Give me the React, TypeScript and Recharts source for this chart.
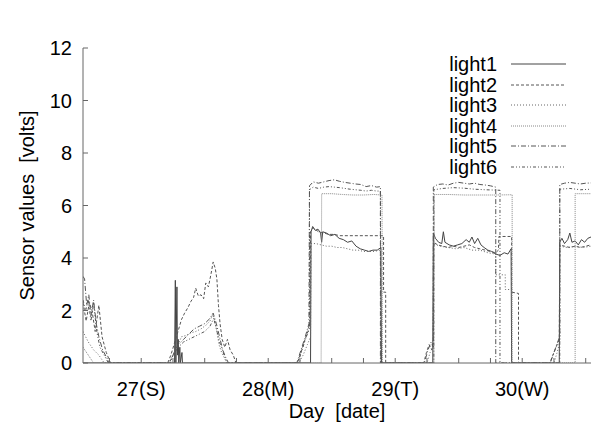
import React from 'react';
import { LineChart, Line, XAxis, YAxis, Legend, Label } from 'recharts';

const FONT = '"Liberation Sans", Arial, Helvetica, sans-serif';

// hours counted from 27th 00:00
const xTicks = [-6, 0, 6, 12, 18, 24, 30, 36, 42, 48, 54, 60, 66, 72, 78, 84];
const dayLabels: Record<number, string> = { 0: '27(S)', 24: '28(M)', 48: '29(T)', 72: '30(W)' };
const yTicks = [0, 2, 4, 6, 8, 10, 12];

const light1: [number, number][] = [
  [-11, 0], [6.3, 0], [6.45, 3.15], [6.55, 0], [6.75, 2.9], [6.85, 0.3], [7.0, 0.9], [7.1, 0],
  [7.3, 0.6], [7.4, 0], [7.7, 0.4], [7.8, 0], [32.0, 0], [32.1, 5.0], [32.4, 5.2], [32.9, 5.05],
  [33.4, 5.1], [33.9, 4.95], [34.1, 4.6], [34.3, 5.0], [35.0, 4.95], [35.8, 4.85], [36.6, 4.9],
  [37.4, 4.75], [38.2, 4.7], [39.0, 4.6], [39.8, 4.65], [40.6, 4.45], [41.4, 4.35], [42.2, 4.3],
  [43.0, 4.25], [43.8, 4.3], [44.6, 4.3], [45.3, 4.4], [45.4, 0], [55.1, 0], [55.2, 4.95],
  [55.6, 4.75], [56.2, 4.6], [56.8, 4.55], [57.1, 5.0], [57.4, 4.6], [58.2, 4.5], [59.0, 4.45],
  [59.8, 4.5], [60.6, 4.55], [61.4, 4.7], [62.0, 4.6], [62.5, 4.8], [63.0, 4.55], [63.6, 4.75],
  [64.2, 4.5], [64.8, 4.4], [65.5, 4.3], [66.2, 4.25], [67.0, 4.15], [67.8, 4.1], [68.6, 4.2],
  [69.3, 4.15], [69.9, 4.35], [70.0, 0], [79.0, 0], [79.1, 4.6], [79.5, 4.75], [80.0, 4.55],
  [80.6, 4.7], [81.0, 4.95], [81.4, 4.6], [82.0, 4.65], [82.6, 4.5], [83.2, 4.7], [83.8, 4.6],
  [84.4, 4.75], [85, 4.8],
];

const light2: [number, number][] = [
  [-11, 2.3], [-10.4, 1.6], [-9.8, 2.3], [-9.3, 2.0], [-8.7, 1.2], [-8.0, 2.2], [-7.4, 1.0],
  [-6.6, 0.4], [-5.8, 0], [5.0, 0], [5.6, 0.3], [6.2, 0.7], [6.8, 1.1], [7.6, 1.65], [8.2, 1.9],
  [8.8, 2.1], [9.4, 2.35], [9.9, 2.5], [10.3, 2.85], [10.8, 2.55], [11.3, 2.6], [11.8, 2.45],
  [12.2, 3.05], [12.7, 2.9], [13.2, 3.4], [13.6, 3.85], [14.0, 3.6], [14.3, 3.2], [14.6, 2.2],
  [14.9, 1.5], [15.3, 0.9], [15.8, 0.6], [16.3, 0.9], [16.8, 0.5], [17.4, 0.3], [17.9, 0],
  [29.5, 0], [30.2, 0.4], [30.8, 0.8], [31.5, 1.2], [31.9, 1.6], [32.0, 5.0], [32.5, 5.15],
  [33.5, 5.0], [34.5, 4.95], [35.5, 4.9], [36.5, 4.9], [37.5, 4.85], [40, 4.85], [42, 4.85],
  [44, 4.85], [45.8, 4.85], [45.8, 2.7], [46.2, 2.7], [46.2, 0], [53.4, 0], [53.9, 0.4],
  [54.4, 0.7], [54.9, 0.5], [55.2, 0.9], [55.3, 4.6], [56, 4.5], [57, 4.45], [58, 4.4],
  [59, 4.45], [60, 4.4], [61, 4.45], [62, 4.5], [63, 4.4], [64, 4.35], [65, 4.3], [66, 4.25],
  [67.0, 4.2], [67.5, 4.3], [67.6, 4.82], [70.0, 4.82], [70.0, 2.7], [71.3, 2.65], [71.3, 0],
  [77.2, 0], [77.8, 0.3], [78.4, 0.6], [79.0, 0.9], [79.1, 4.5], [80, 4.45], [81, 4.4],
  [82, 4.45], [83, 4.4], [84, 4.45], [85, 4.5],
];

const light3: [number, number][] = [
  [-11, 1.2], [-10, 0.8], [-9, 0.5], [-8, 0.3], [-7, 0], [5.2, 0], [6, 0.3], [6.8, 0.6],
  [7.6, 1.0], [8.5, 1.05], [9.4, 1.15], [10.3, 1.2], [11.3, 1.3], [12.3, 1.45], [13.0, 1.6],
  [13.5, 1.85], [13.9, 1.6], [14.3, 1.2], [14.7, 0.7], [15.2, 0.4], [15.7, 0.2], [16.2, 0],
  [29.8, 0], [30.6, 0.3], [31.4, 0.7], [32.0, 1.0], [32.1, 4.55], [33, 4.55], [34, 4.5],
  [35, 4.45], [36, 4.45], [37, 4.4], [38, 4.4], [39, 4.35], [40, 4.3], [41, 4.3], [42, 4.25],
  [43, 4.25], [44, 4.25], [45.2, 4.3], [45.3, 0], [54.0, 0], [54.6, 0.4], [55.1, 0.6],
  [55.2, 4.55], [56.5, 4.45], [58, 4.4], [59.5, 4.35], [61, 4.4], [62.5, 4.3], [64, 4.3],
  [65.5, 4.2], [67.0, 4.15], [67.0, 3.36], [68.8, 3.36], [68.8, 2.8], [70.0, 2.8], [70.0, 0],
  [78, 0], [78.6, 0.4], [79.1, 0.8], [79.1, 4.45], [80.5, 4.4], [82, 4.45], [83.5, 4.4], [85, 4.45],
];

const light4: [number, number][] = [
  [-11, 0.6], [-10, 0.3], [-9, 0], [34.0, 0], [34.1, 6.45], [36, 6.45], [38, 6.42], [40, 6.4],
  [42, 6.4], [44, 6.42], [45.5, 6.4], [45.6, 0], [55.3, 0], [55.4, 6.42], [58, 6.42], [61, 6.4],
  [64, 6.4], [67, 6.4], [70.1, 6.41], [70.1, 0], [82.0, 0], [82.0, 6.45], [85, 6.45],
];

const light5: [number, number][] = [
  [-11, 3.3], [-10.7, 3.2], [-10.3, 2.2], [-9.9, 2.6], [-9.5, 1.8], [-9.0, 2.4], [-8.5, 1.5],
  [-8.0, 1.0], [-7.3, 0.5], [-6.5, 0.2], [-6.0, 0], [5.5, 0], [6.2, 0.4], [7, 0.7], [8, 0.9],
  [9, 1.1], [10, 1.3], [11, 1.4], [12, 1.5], [13, 1.7], [13.6, 1.9], [14.2, 1.5], [14.8, 1.0],
  [15.4, 0.5], [16, 0.2], [16.5, 0], [29.4, 0], [30.2, 0.5], [31.0, 1.0], [31.7, 1.5],
  [31.8, 6.75], [32.5, 6.9], [33.5, 6.85], [34.5, 6.9], [35.5, 6.95], [36.5, 6.98], [37.5, 6.92],
  [38.5, 6.88], [39.5, 6.85], [40.5, 6.82], [41.5, 6.8], [42.5, 6.72], [43.5, 6.76], [44.5, 6.7],
  [45.2, 6.72], [45.2, 0], [53.5, 0], [54.2, 0.5], [54.8, 0.8], [55.2, 0.6], [55.2, 6.7],
  [56, 6.8], [57, 6.82], [58, 6.78], [59, 6.85], [60, 6.88], [61, 6.85], [62, 6.82], [63, 6.85],
  [64, 6.8], [65, 6.78], [66, 6.75], [67.0, 6.7], [67.0, 0], [77.3, 0], [78, 0.4], [78.7, 0.8],
  [79.1, 1.0], [79.1, 6.8], [80, 6.85], [81, 6.88], [82, 6.85], [83, 6.82], [84, 6.85], [85, 6.86],
];

const light6: [number, number][] = [
  [-11, 2.4], [-10.5, 2.0], [-10, 2.4], [-9.5, 1.6], [-9, 2.3], [-8.4, 1.2], [-7.8, 0.6],
  [-7, 0.3], [-6.2, 0], [5.3, 0], [6, 0.3], [7, 0.6], [8, 0.8], [9, 0.9], [10, 1.0], [11, 1.1],
  [12, 1.2], [13, 1.4], [13.7, 1.7], [14.2, 1.3], [14.8, 0.8], [15.5, 0.4], [16.2, 0],
  [29.6, 0], [30.4, 0.5], [31.2, 1.0], [31.8, 1.3], [31.8, 6.6], [32.5, 6.7], [33.5, 6.65],
  [34.5, 6.7], [35.5, 6.72], [36.5, 6.7], [37.5, 6.68], [38.5, 6.65], [39.5, 6.62], [40.5, 6.6],
  [41.5, 6.58], [42.5, 6.55], [43.5, 6.58], [44.5, 6.55], [45.2, 6.55], [45.3, 0], [55.3, 0],
  [55.3, 6.6], [57, 6.65], [59, 6.68], [61, 6.66], [63, 6.62], [65, 6.6], [67.8, 6.58],
  [67.8, 0], [79.1, 0], [79.1, 6.62], [81, 6.65], [83, 6.6], [85, 6.62],
];

const series = [
  { name: 'light1', points: light1, stroke: '#444', dash: undefined },
  { name: 'light2', points: light2, stroke: '#555', dash: '3 2' },
  { name: 'light3', points: light3, stroke: '#666', dash: '1 2' },
  { name: 'light4', points: light4, stroke: '#888', dash: '1 1' },
  { name: 'light5', points: light5, stroke: '#555', dash: '5 2 1 2' },
  { name: 'light6', points: light6, stroke: '#555', dash: '3 2 1 2 1 2' },
];

const toRows = (pts: [number, number][]) => pts.map(([h, v]) => ({ h, v }));

const FRAME = '#666';

const LegendBox = () => (
  <div style={{ fontFamily: FONT, fontSize: 20, color: '#000' }}>
    {series.map((s) => (
      <div key={s.name} style={{ display: 'flex', alignItems: 'center', height: 20.5 }}>
        <span style={{ width: 100, textAlign: 'right', lineHeight: '20px' }}>{s.name}</span>
        <svg width={60} height={6} style={{ marginLeft: 14 }}>
          <line x1={0} x2={55} y1={3} y2={3} stroke={s.stroke} strokeWidth={1} strokeDasharray={s.dash} />
        </svg>
      </div>
    ))}
  </div>
);

const TitleLabel = (props: any) => {
  const vb = props.viewBox || { x: 83, y: 48, width: 508 };
  return (
    <text x={vb.x + vb.width / 2} y={vb.y - 21} textAnchor="middle" fontFamily={FONT} fontSize={20} fill="#000">
      time series for the light level
    </text>
  );
};

const XTitle = (props: any) => {
  const vb = props.viewBox || { x: 83, y: 363, width: 508 };
  return (
    <text x={vb.x + vb.width / 2} y={418} textAnchor="middle" fontFamily={FONT} fontSize={20} fill="#000">
      {'Day\u00A0 [date]'}
    </text>
  );
};

const YTitle = (props: any) => {
  const vb = props.viewBox || { y: 48, height: 315 };
  const cy = vb.y + vb.height / 2;
  return (
    <text x={27} y={cy} transform={`rotate(-90, 27, ${cy})`} textAnchor="middle" dominantBaseline="central"
      fontFamily={FONT} fontSize={20} fill="#000">
      {'Sensor values\u00A0 [volts]'}
    </text>
  );
};

export default function App() {
  const tickStyle = { fontSize: 20, fill: '#000', fontFamily: FONT };
  return (
    <div style={{ position: 'absolute', left: 0, top: 0, width: 593, height: 425, background: '#fff' }}>
      <LineChart width={593} height={425} margin={{ top: 48, right: 2, bottom: 22, left: 0 }}>
        <XAxis
          xAxisId="bottom"
          dataKey="h"
          type="number"
          domain={[-11, 85]}
          allowDataOverflow
          ticks={xTicks}
          interval={0}
          height={40}
          tickSize={-5}
          tickMargin={24}
          tickFormatter={(v: number) => dayLabels[v] ?? ''}
          tick={tickStyle}
          stroke={FRAME}
          tickLine={{ stroke: FRAME }}
        >
          <Label content={XTitle} />
        </XAxis>
        <XAxis
          xAxisId="top"
          orientation="top"
          type="number"
          domain={[-11, 85]}
          allowDataOverflow
          ticks={xTicks}
          interval={0}
          height={0}
          tickSize={-5}
          tick={false}
          stroke={FRAME}
          tickLine={{ stroke: FRAME }}
        >
          <Label content={TitleLabel} />
        </XAxis>
        <YAxis
          yAxisId="left"
          type="number"
          domain={[0, 12]}
          allowDataOverflow
          ticks={yTicks}
          interval={0}
          width={83}
          tickSize={-5}
          tickMargin={16}
          tick={tickStyle}
          stroke={FRAME}
          tickLine={{ stroke: FRAME }}
        >
          <Label content={YTitle} />
        </YAxis>
        <YAxis
          yAxisId="right"
          orientation="right"
          type="number"
          domain={[0, 12]}
          allowDataOverflow
          ticks={yTicks}
          interval={0}
          width={0}
          tickSize={-5}
          tick={false}
          stroke={FRAME}
          tickLine={{ stroke: FRAME }}
        />
        <Legend
          layout="vertical"
          align="center"
          verticalAlign="middle"
          content={LegendBox}
          wrapperStyle={{ top: 54, left: 397, width: 180 }}
        />
        {series.map((s) => (
          <Line
            key={s.name}
            name={s.name}
            xAxisId="bottom"
            yAxisId="left"
            data={toRows(s.points)}
            dataKey="v"
            type="linear"
            stroke={s.stroke}
            strokeWidth={1}
            strokeDasharray={s.dash}
            dot={false}
            activeDot={false}
            isAnimationActive={false}
          />
        ))}
      </LineChart>
    </div>
  );
}
